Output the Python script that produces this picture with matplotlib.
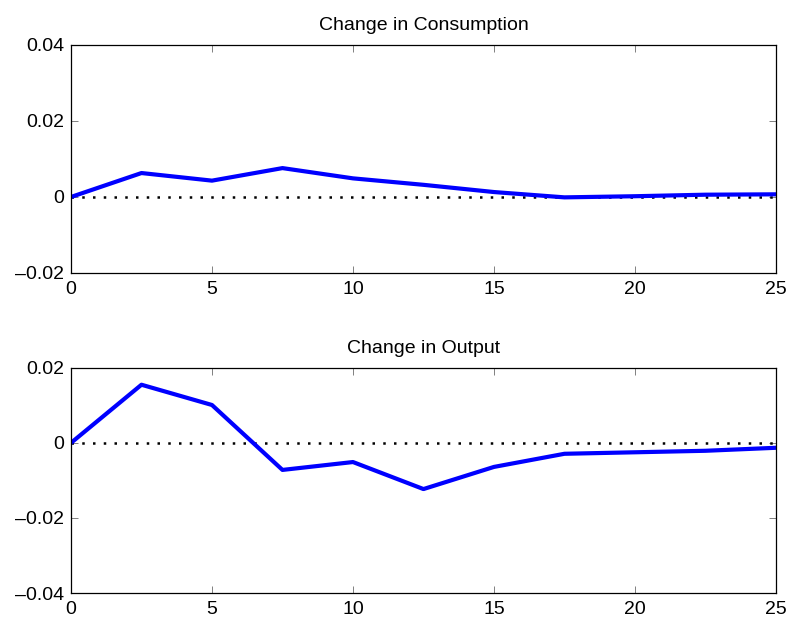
import matplotlib
matplotlib.use('Agg')
import matplotlib.pyplot as plt

# impulse responses
t = [0, 2.5, 5, 7.5, 10, 12.5, 15, 17.5, 20, 22.5, 25]
consumption = [0, 0.0063, 0.0043, 0.0076, 0.0049, 0.0032, 0.0013, -0.0001, 0.0002, 0.0006, 0.0007]
output = [0, 0.0155, 0.0101, -0.0072, -0.0051, -0.0123, -0.0064, -0.0029, -0.0025, -0.0021, -0.0013]

plt.rcParams['font.family'] = ['Liberation Sans', 'DejaVu Sans']
plt.rcParams['font.size'] = 14

fig = plt.figure(figsize=(7.93, 6.29), dpi=100)
ax1 = fig.add_axes([0.0895, 0.566, 0.889, 0.3625])
ax2 = fig.add_axes([0.0895, 0.0572, 0.889, 0.358])

def fmt(v):
    if v == 0:
        return '0'
    s = '%.2f' % abs(v)
    return ('\u2013' + s) if v < 0 else s

def style(ax, series, title, ylim, yticks):
    ax.plot([t[0], t[-1]], [0, 0], color='k', lw=1.8, ls=(0, (1, 3.3)))
    ax.plot(t, series, color=(0, 0, 1), lw=3)
    ax.set_xlim(0, 25)
    ax.set_ylim(*ylim)
    ax.set_xticks([0, 5, 10, 15, 20, 25])
    ax.set_yticks(yticks)
    ax.set_yticklabels([fmt(v) for v in yticks])
    ax.tick_params(direction='in', length=5, width=0.5, color='0.3',
                   top=True, right=True, labelsize=14)
    ax.tick_params(axis='x', pad=6)
    ax.tick_params(axis='y', pad=5)
    for s in ax.spines.values():
        s.set_linewidth(0.9)
    ax.set_title(title, fontsize=14, pad=11)

style(ax1, consumption, 'Change in Consumption', (-0.02, 0.04), [-0.02, 0, 0.02, 0.04])
style(ax2, output, 'Change in Output', (-0.04, 0.02), [-0.04, -0.02, 0, 0.02])

fig.savefig('out.png', dpi=100)
